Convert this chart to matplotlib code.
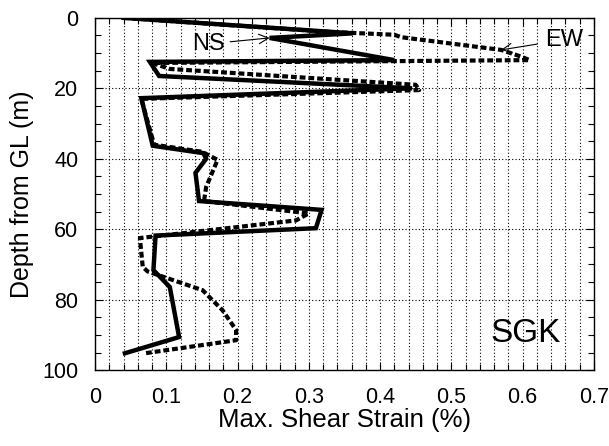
import numpy as np
import matplotlib
matplotlib.use("Agg")
import matplotlib.pyplot as plt
from matplotlib.ticker import MultipleLocator

plt.rcParams['font.family'] = ['Liberation Sans', 'DejaVu Sans']

# NS component (solid)
ns_strain = [0.040, 0.362, 0.245, 0.420, 0.077, 0.090, 0.445, 0.065, 0.081, 0.152,
             0.156, 0.141, 0.146, 0.318, 0.310, 0.085, 0.082, 0.105, 0.118, 0.042]
ns_depth = [0.0, 4.4, 5.7, 12.0, 12.5, 16.5, 20.0, 22.8, 36.3, 38.4,
            40.0, 44.0, 52.0, 54.5, 59.7, 61.8, 71.6, 76.4, 90.6, 95.2]

# EW component (dashed)
ew_strain = [0.040, 0.330, 0.420, 0.430, 0.570, 0.598, 0.610, 0.080, 0.105, 0.450,
             0.455, 0.065, 0.083, 0.150, 0.172, 0.156, 0.153, 0.300, 0.282, 0.063,
             0.067, 0.074, 0.109, 0.151, 0.179, 0.198, 0.198, 0.070]
ew_depth = [0.0, 4.0, 4.8, 5.5, 9.1, 11.0, 12.0, 12.8, 14.5, 19.0,
            20.5, 23.0, 36.0, 38.0, 40.3, 48.0, 52.0, 55.5, 57.5, 62.5,
            70.7, 72.0, 74.4, 77.3, 83.0, 88.6, 91.5, 95.2]

x_ticks = [0, 0.1, 0.2, 0.3, 0.4, 0.5, 0.6, 0.7]
x_labels = ['0', '0.1', '0.2', '0.3', '0.4', '0.5', '0.6', '0.7']

fig = plt.figure(figsize=(6.09, 4.46), dpi=100)
ax = fig.add_axes([0.156, 0.170, 0.819, 0.790])

ax.plot(ew_strain, ew_depth, color='black', lw=3.0, linestyle=(0, (1.4, 0.7)),
        solid_joinstyle='miter')
ax.plot(ns_strain, ns_depth, color='black', lw=3.2, solid_joinstyle='miter')

ax.set_xlim(0, 0.7)
ax.set_ylim(100, 0)

ax.set_xticks(x_ticks)
ax.set_xticklabels(x_labels)
ax.xaxis.set_minor_locator(MultipleLocator(0.02))
ax.yaxis.set_major_locator(MultipleLocator(20))
ax.yaxis.set_minor_locator(MultipleLocator(5))

ax.tick_params(which='both', direction='in', top=True, right=True,
               labelsize=15.5, width=0.8, color='black')
ax.tick_params(which='major', length=6, pad=12)
ax.tick_params(which='minor', length=4)

# dotted grid
ax.grid(which='both', axis='x', linestyle=(0, (1, 2)), color='black', lw=0.8)
ax.grid(which='major', axis='y', linestyle=(0, (1, 2)), color='black', lw=0.8)
ax.set_axisbelow(True)

for s in ax.spines.values():
    s.set_linewidth(1.0)

ax.set_xlabel('Max. Shear Strain (%)', fontsize=18.5, labelpad=0)
ax.set_ylabel('Depth from GL (m)', fontsize=18, labelpad=6)

ax.annotate('NS', xy=(0.245, 5.7), xytext=(0.159, 7.4), fontsize=17,
            ha='center', va='center',
            arrowprops=dict(arrowstyle='->', lw=0.8, color='black', shrinkA=2, shrinkB=0))
ax.annotate('EW', xy=(0.57, 9.1), xytext=(0.659, 6.2), fontsize=17,
            ha='center', va='center',
            arrowprops=dict(arrowstyle='->', lw=0.8, color='black', shrinkA=4, shrinkB=0))
ax.text(0.605, 89.5, 'SGK', fontsize=24, ha='center', va='center')

fig.savefig('out.png', dpi=100)
